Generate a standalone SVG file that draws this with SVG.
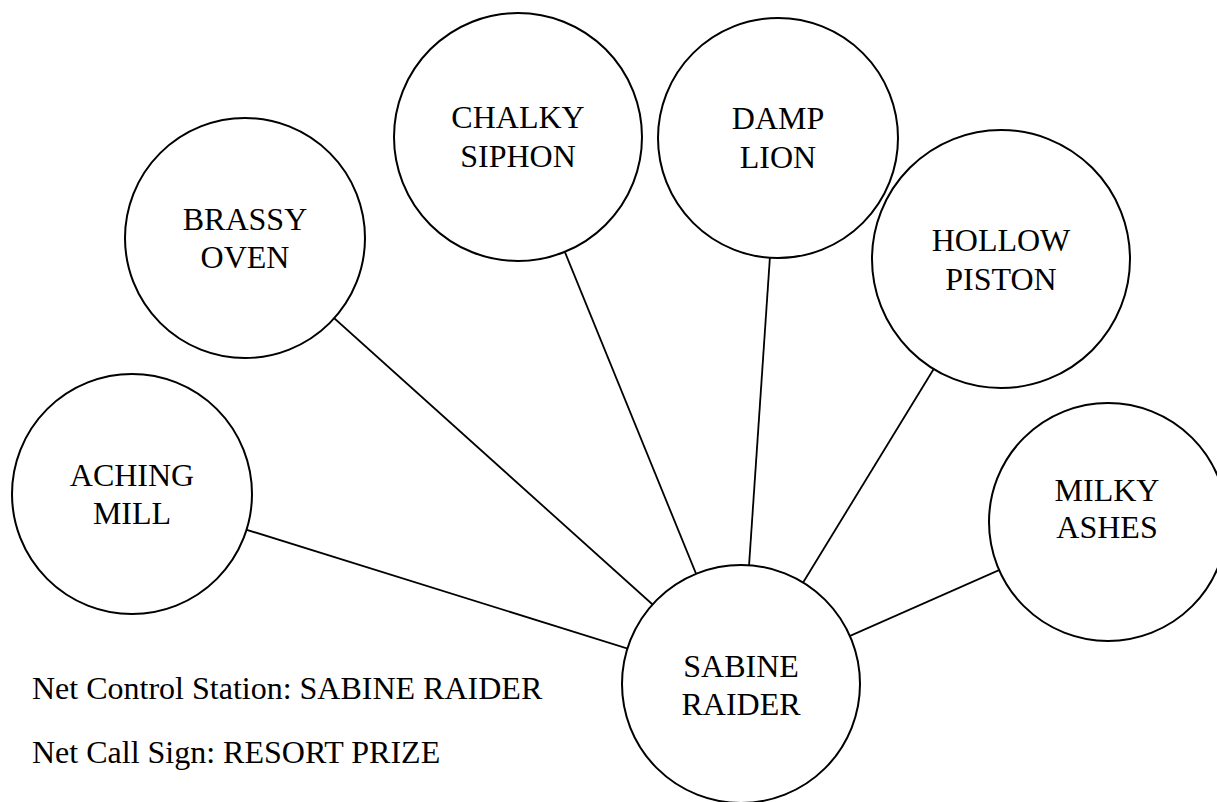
<svg xmlns="http://www.w3.org/2000/svg" width="1217" height="802" viewBox="0 0 1217 802">
<style>
.n{fill:#fff;stroke:#000;stroke-width:2}
.e{stroke:#000;stroke-width:1.8;fill:none}
text{font-family:"Liberation Serif","Times New Roman",serif;font-size:32px;fill:#000}
.c{text-anchor:middle}
</style>
<rect width="1217" height="802" fill="#fff"/>
<g id="connectors">
<line class="e" x1="741" y1="684" x2="132" y2="494"/>
<line class="e" x1="741" y1="684" x2="245" y2="238"/>
<line class="e" x1="741" y1="684" x2="518" y2="137"/>
<line class="e" x1="741" y1="684" x2="778" y2="138"/>
<line class="e" x1="741" y1="684" x2="1001" y2="259"/>
<line class="e" x1="741" y1="684" x2="1108" y2="522"/>
</g>
<g id="aching-mill"><circle class="n" cx="132" cy="494" r="120"/><text class="c" x="132" y="486">ACHING</text><text class="c" x="132" y="524">MILL</text></g>
<g id="brassy-oven"><circle class="n" cx="245" cy="238" r="120"/><text class="c" x="245" y="230">BRASSY</text><text class="c" x="245" y="268">OVEN</text></g>
<g id="chalky-siphon"><circle class="n" cx="518" cy="137" r="124"/><text class="c" x="518" y="128">CHALKY</text><text class="c" x="518" y="167">SIPHON</text></g>
<g id="damp-lion"><circle class="n" cx="778" cy="138" r="120"/><text class="c" x="778" y="129">DAMP</text><text class="c" x="778" y="168">LION</text></g>
<g id="hollow-piston"><circle class="n" cx="1001" cy="259" r="129"/><text class="c" x="1001" y="251">HOLLOW</text><text class="c" x="1001" y="290">PISTON</text></g>
<g id="milky-ashes"><circle class="n" cx="1108" cy="522" r="119"/><text class="c" x="1107" y="501">MILKY</text><text class="c" x="1107" y="538">ASHES</text></g>
<g id="sabine-raider"><circle class="n" cx="741" cy="684" r="119"/><text class="c" x="741" y="677">SABINE</text><text class="c" x="741" y="715">RAIDER</text></g>
<g id="legend">
<text x="32" y="699">Net Control Station: SABINE RAIDER</text>
<text x="32" y="763">Net Call Sign: RESORT PRIZE</text>
</g>
</svg>
